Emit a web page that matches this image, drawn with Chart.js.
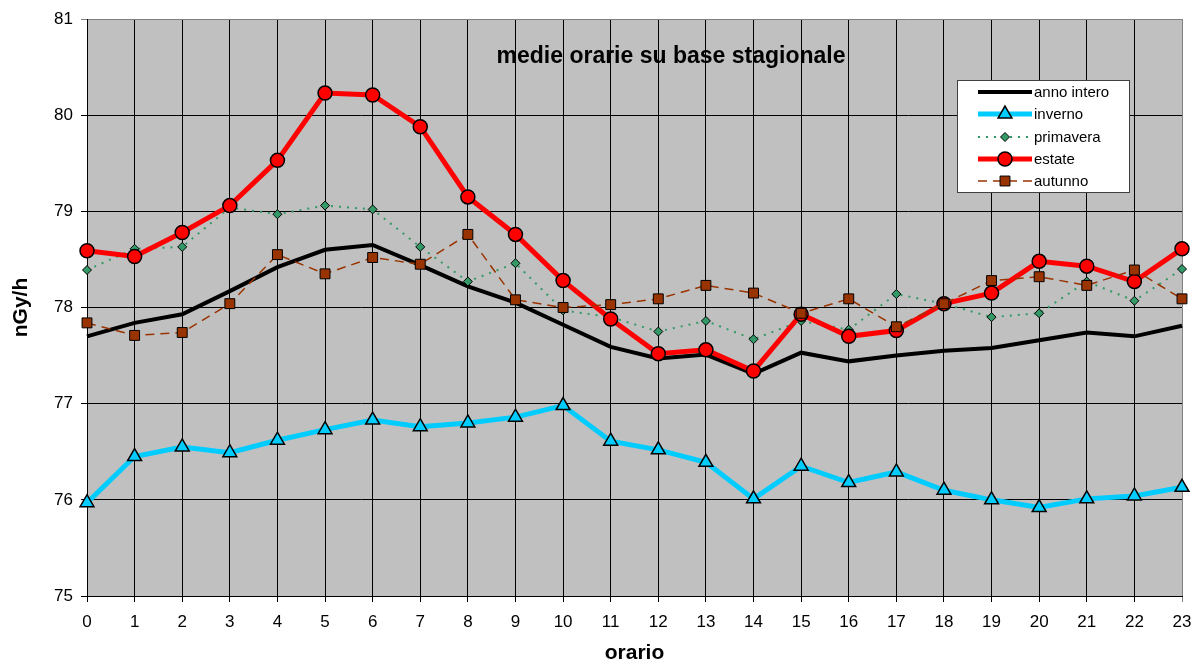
<!DOCTYPE html>
<html>
<head>
<meta charset="utf-8">
<script src="https://cdn.jsdelivr.net/npm/chart.js@4/dist/chart.umd.min.js"></script>
<style>
  html, body { margin: 0; padding: 0; background: #fff; }
  #wrap { width: 1195px; height: 664px; }
</style>
</head>
<body>
<div id="wrap"><canvas id="chart" width="1195" height="664"></canvas></div>
<script>
const hours = ['0','1','2','3','4','5','6','7','8','9','10','11','12','13','14','15','16','17','18','19','20','21','22','23'];

const annoIntero = [77.70, 77.84, 77.93, 78.17, 78.42, 78.60, 78.65, 78.44, 78.22, 78.05, 77.82, 77.59,
                    77.47, 77.51, 77.31, 77.53, 77.44, 77.50, 77.55, 77.58, 77.66, 77.74, 77.70, 77.81];
const inverno = [75.97, 76.45, 76.55, 76.49, 76.62, 76.73, 76.83, 76.76, 76.80, 76.86, 76.98, 76.61,
                 76.52, 76.39, 76.01, 76.35, 76.18, 76.29, 76.10, 76.00, 75.92, 76.01, 76.04, 76.13];
const primavera = [78.39, 78.61, 78.63, 79.04, 78.97, 79.06, 79.02, 78.63, 78.27, 78.46, 77.97, 77.90,
                   77.75, 77.86, 77.67, 77.86, 77.77, 78.14, 78.04, 77.90, 77.94, 78.27, 78.07, 78.40];
const estate = [78.59, 78.53, 78.78, 79.06, 79.53, 80.23, 80.21, 79.88, 79.15, 78.76, 78.28, 77.88,
                77.52, 77.56, 77.34, 77.93, 77.70, 77.76, 78.04, 78.15, 78.48, 78.43, 78.27, 78.61];
const autunno = [77.84, 77.71, 77.74, 78.04, 78.55, 78.35, 78.52, 78.45, 78.76, 78.08, 78.00, 78.03,
                 78.09, 78.23, 78.15, 77.94, 78.09, 77.80, 78.04, 78.28, 78.32, 78.23, 78.39, 78.09];

const yMin = 75;
const yMax = 81;

const FONT = 'Arial, "Liberation Sans", sans-serif';

// grey plot area
const plotBackground = {
  id: 'plotBackground',
  beforeDraw(chart) {
    const { ctx, chartArea: a } = chart;
    ctx.save();
    ctx.fillStyle = '#c0c0c0';
    ctx.fillRect(a.left, a.top, a.right - a.left, a.bottom - a.top);
    ctx.restore();
  }
};

// title inside plot + boxed legend, like the excel original
const insideText = {
  id: 'insideText',
  afterDraw(chart) {
    const { ctx } = chart;
    ctx.save();
    ctx.fillStyle = '#000';
    ctx.font = 'bold 23px ' + FONT;
    ctx.textAlign = 'center';
    ctx.textBaseline = 'middle';
    ctx.fillText('medie orarie su base stagionale', 671, 57);

    const bx = 957, by = 80, bw = 172, bh = 112;
    ctx.fillStyle = '#fff';
    ctx.fillRect(bx, by, bw, bh);
    ctx.strokeStyle = '#404040';
    ctx.lineWidth = 1;
    ctx.strokeRect(bx + 0.5, by + 0.5, bw, bh);

    const rowY = [92, 114, 137, 159, 181];
    chart.data.datasets.forEach((ds, i) => {
      const y = rowY[i];
      ctx.save();
      ctx.strokeStyle = ds.borderColor;
      ctx.lineWidth = ds.borderWidth;
      ctx.setLineDash(ds.borderDash || []);
      ctx.beginPath();
      ctx.moveTo(978, y);
      ctx.lineTo(1032, y);
      ctx.stroke();
      ctx.setLineDash([]);
      if (ds.pointRadius > 0) {
        ctx.fillStyle = ds.pointBackgroundColor;
        ctx.strokeStyle = ds.pointBorderColor;
        ctx.lineWidth = ds.pointBorderWidth;
        Chart.helpers.drawPoint(ctx, {
          pointStyle: ds.pointStyle,
          radius: ds.pointRadius,
          rotation: 0,
          borderWidth: ds.pointBorderWidth
        }, 1005, y);
      }
      ctx.restore();
      ctx.fillStyle = '#000';
      ctx.font = '15px ' + FONT;
      ctx.textAlign = 'left';
      ctx.fillText(ds.label, 1034, y + 1);
    });
    ctx.restore();
  }
};

new Chart(document.getElementById('chart'), {
  type: 'line',
  data: {
    labels: hours,
    datasets: [
      {
        label: 'anno intero',
        data: annoIntero,
        borderColor: '#000000',
        borderWidth: 4,
        pointRadius: 0,
        pointHoverRadius: 0,
        order: 5
      },
      {
        label: 'inverno',
        data: inverno,
        borderColor: '#00ccff',
        borderWidth: 5,
        pointStyle: 'triangle',
        pointRadius: 8,
        pointBackgroundColor: '#00ccff',
        pointBorderColor: '#000',
        pointBorderWidth: 1.5,
        order: 4
      },
      {
        label: 'primavera',
        data: primavera,
        borderColor: '#339966',
        borderWidth: 2,
        borderDash: [2, 6],
        pointStyle: 'rectRot',
        pointRadius: 4.5,
        pointBackgroundColor: '#339966',
        pointBorderColor: '#000',
        pointBorderWidth: 1,
        order: 3
      },
      {
        label: 'estate',
        data: estate,
        borderColor: '#ff0000',
        borderWidth: 5,
        pointStyle: 'circle',
        pointRadius: 7,
        pointBackgroundColor: '#ff0000',
        pointBorderColor: '#000',
        pointBorderWidth: 1.5,
        order: 2
      },
      {
        label: 'autunno',
        data: autunno,
        borderColor: '#993300',
        borderWidth: 1.5,
        borderDash: [9, 6],
        pointStyle: 'rect',
        pointRadius: 7,
        pointBackgroundColor: '#993300',
        pointBorderColor: '#000',
        pointBorderWidth: 1,
        order: 1
      }
    ]
  },
  options: {
    responsive: false,
    animation: false,
    events: [],
    layout: {
      padding: { top: 19, right: 0, left: 0, bottom: 0 }
    },
    elements: {
      line: { tension: 0 }
    },
    plugins: {
      legend: { display: false },
      title: { display: false },
      tooltip: { enabled: false }
    },
    scales: {
      x: {
        type: 'category',
        offset: false,
        afterFit(scale) {
          scale.height = 68;
          scale.paddingLeft = 0;
          scale.paddingRight = 13;
        },
        border: { color: '#000', width: 1 },
        grid: {
          color: ctx => (ctx.index === hours.length - 1 ? '#808080' : '#000'),
          lineWidth: 1,
          tickLength: 6
        },
        ticks: {
          color: '#000',
          font: { family: FONT, size: 17 },
          padding: 10,
          maxRotation: 0,
          autoSkip: false
        },
        title: {
          display: true,
          text: 'orario',
          color: '#000',
          font: { family: FONT, size: 21, weight: 'bold', lineHeight: 1 },
          padding: { top: 0, bottom: 0 }
        }
      },
      y: {
        min: yMin,
        max: yMax,
        afterFit(scale) { scale.width = 87; },
        border: { color: '#000', width: 1 },
        grid: {
          color: ctx => (ctx.tick && ctx.tick.value === yMax ? '#808080' : '#000'),
          lineWidth: 1,
          tickLength: 6
        },
        ticks: {
          stepSize: 1,
          color: '#000',
          font: { family: FONT, size: 17 },
          padding: 8
        },
        title: {
          display: true,
          text: 'nGy/h',
          color: '#000',
          font: { family: FONT, size: 21, weight: 'bold', lineHeight: 1 },
          padding: { top: 11, bottom: 0 }
        }
      }
    }
  },
  plugins: [plotBackground, insideText]
});
</script>
</body>
</html>
